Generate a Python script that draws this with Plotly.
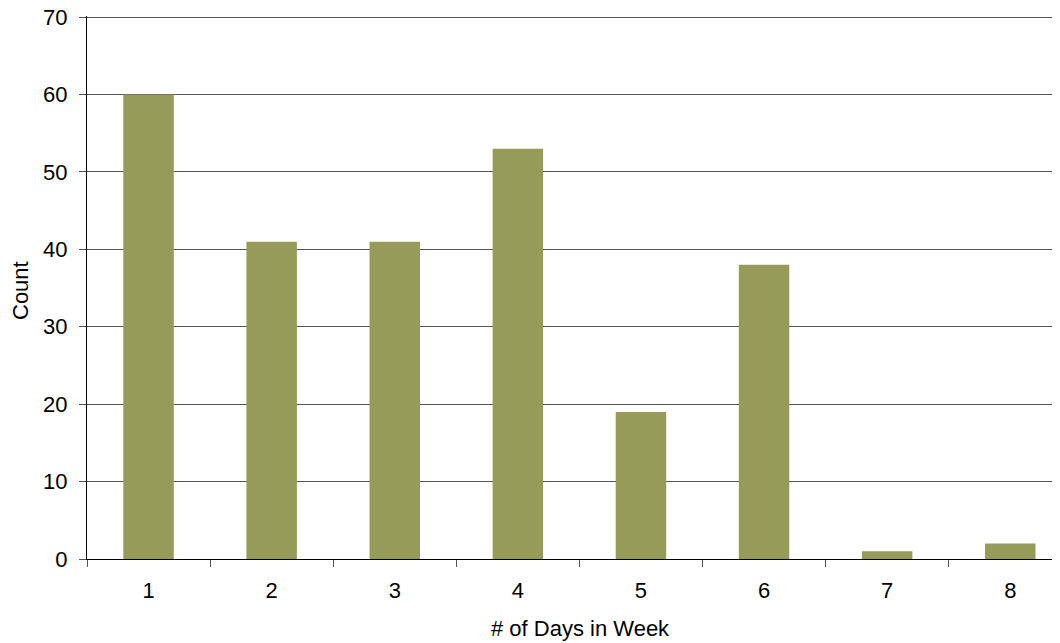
import plotly.graph_objects as go

categories = ["1", "2", "3", "4", "5", "6", "7", "8"]
counts = [60, 41, 41, 53, 19, 38, 1, 2]
y_ticks = [0, 10, 20, 30, 40, 50, 60, 70]

# page is rendered with an 8px body margin; compensate so the plot lands where the reference has it
OFF = 8
FIG_W, FIG_H = 1060 - OFF, 643 - OFF
PLOT_L, PLOT_T, PLOT_B, PLOT_R = 87, 16, 559, 1060  # page pixel coords

fig = go.Figure()
fig.add_trace(go.Bar(x=categories, y=counts, marker=dict(color="#969B59", line=dict(width=0)),
                     width=0.41))

font = dict(family="Liberation Sans, Arial, sans-serif", size=22, color="#000000")

fig.update_layout(
    width=FIG_W, height=FIG_H,
    margin=dict(l=PLOT_L - OFF, r=0, t=PLOT_T - OFF, b=FIG_H - (PLOT_B - OFF), pad=0, autoexpand=False),
    paper_bgcolor="white", plot_bgcolor="white",
    showlegend=False,
    font=font,
    xaxis=dict(type="category", range=[-0.5, 7.404], showgrid=False, automargin=False,
               showline=True, linecolor="#000000", linewidth=1,
               ticks="outside", tickson="boundaries", ticklen=7, tickcolor="#555555",
               tickfont=font, zeroline=False, ticklabelstandoff=12),
    yaxis=dict(range=[0, 70.15], tickvals=y_ticks, showgrid=True, gridcolor="#555555", gridwidth=1,
               showline=True, linecolor="#000000", linewidth=1, automargin=False,
               ticks="outside", ticklen=7, tickcolor="#555555", tickfont=font,
               zeroline=False, ticklabelstandoff=7, ticklabeloverflow="allow"),
)

pw, ph = PLOT_R - PLOT_L, PLOT_B - PLOT_T
fig.add_annotation(text="# of Days in Week", xref="paper", yref="paper",
                   x=(580 - PLOT_L) / pw, y=(PLOT_B - 629) / ph,
                   xanchor="center", yanchor="middle", showarrow=False, font=font)
fig.add_annotation(text="Count", textangle=-90, xref="paper", yref="paper",
                   x=(21 - PLOT_L) / pw, y=(PLOT_B - 291) / ph,
                   xanchor="center", yanchor="middle", showarrow=False, font=font)

fig.write_html("out.html")
